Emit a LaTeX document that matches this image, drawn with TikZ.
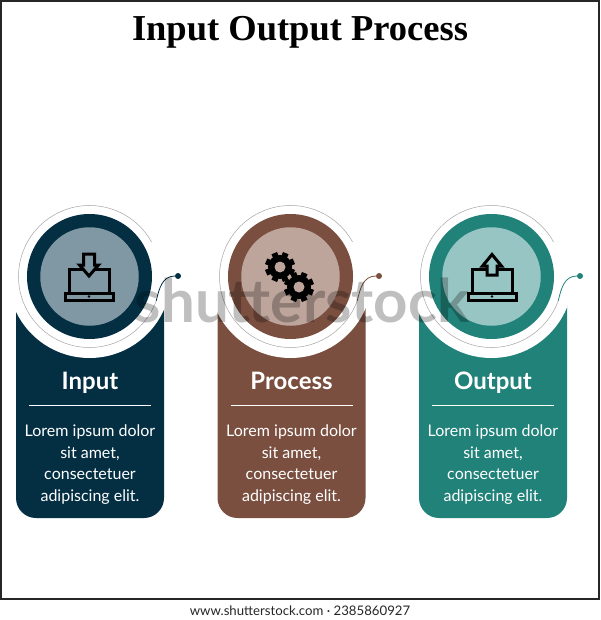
\documentclass[tikz,border=0pt]{standalone}
\usepackage{fontspec}
\setmainfont{Lato}
\newfontfamily\headfont{Liberation Serif}
\usepackage{tikz}
\usetikzlibrary{positioning,calc}
\definecolor{inputdark}{HTML}{042F43}
\definecolor{inputlight}{HTML}{7F98A3}
\definecolor{processdark}{HTML}{7A4F40}
\definecolor{processlight}{HTML}{BDA59C}
\definecolor{outputdark}{HTML}{21827A}
\definecolor{outputlight}{HTML}{97C5C3}
\tikzset{
  disc/.style={circle,inner sep=0pt,outer sep=0pt,draw=none},
  tipdot/.style={disc,minimum size=6pt},
  thinarc/.style={gray!70,line width=0.5pt},
  heading/.style={text=white,font=\fontsize{24}{26}\selectfont\bfseries,inner sep=0pt,anchor=base},
  blurb/.style={text=white,align=center,font=\fontsize{16}{21.7}\selectfont,inner sep=0pt},
  iconline/.style={draw=black,line width=3pt,miter limit=4},
  laptop/.pic={
    \draw[iconline] (-20,292) |- (20,269.5) -- (20,292);
    \draw[iconline] (-24,293) rectangle (24,300);
    \fill (0,296.5) circle (1.3pt);
  },
  gear/.pic={
    \fill (0,0) circle (12pt);
    \foreach \a in {0,45,...,315}
      \fill[rotate=\a+22.5] (-3,-15) rectangle (3,0);
    \fill[processlight] (0,0) circle (5.5pt);
  }
}
\begin{document}
\begin{tikzpicture}[x=1pt,y=-1pt]
  \useasboundingbox (0,0) rectangle (600,620);
  \draw[black!85,line width=1.2pt] (1,1) rectangle (599,599);
  \node[font=\headfont\fontsize{36.5}{38}\selectfont\bfseries,inner sep=0pt,anchor=base] (title) at (300,40.5) {Input Output Process};
  \node[font=\fontsize{13.2}{15}\selectfont,text=black!85,inner sep=0pt] (footer) at (300,611) {www.shutterstock.com · 2385860927};

  \foreach \n/\cx/\px/\dark/\light/\word in {
      in/89.5/90/inputdark/inputlight/Input,
      pr/290.5/291.5/processdark/processlight/Process,
      ou/491.5/493/outputdark/outputlight/Output}{
    \fill[\dark,rounded corners=20pt] (\px-74,300) [sharp corners] -- (\px+74,300) [rounded corners=20pt] -- (\px+74,518) -- (\px-74,518) -- (\px-74,320) [sharp corners] -- cycle;
    \node[disc,fill=white,minimum size=163pt] (cut\n) at (\cx,276.5) {};
    \coordinate (arcstart\n) at ($(\cx,276.5)+(29:71pt)$);
    \coordinate (arcend\n) at ($(\cx,276.5)+(340:71pt)$);
    \draw[thinarc] (arcstart\n) arc[start angle=29,end angle=340,radius=71pt];
    \node[disc,fill=\dark,minimum size=125pt] (ring\n) at (\cx,276.5) {};
    \node[disc,fill=\light,minimum size=98.5pt] (face\n) at (\cx,276.5) {};
    \node[tipdot,fill=\dark] (dot\n) at (\cx+88.5,276) {};
    \draw[\dark,line width=0.8pt] (arcend\n) .. controls +(3,-12) and +(-16,0) .. (dot\n);
    \node[heading] (word\n) at (\px,389) {\word};
    \draw[white,line width=1.6pt] (\px-61,405.5) -- (\px+61,405.5);
    \node[blurb,anchor=north] (text\n) at (\px,424.5) {Lorem ipsum dolor\\sit amet,\\consectetuer\\adipiscing elit.};
  }

  \pic at (89,0) {laptop};
  \draw[iconline,fill=inputlight] (83.5,254) -- (94.5,254) -- (94.5,265) -- (98.5,265) -- (89,276) -- (79.5,265) -- (83.5,265) -- cycle;
  \pic at (492,0) {laptop};
  \draw[iconline,fill=outputlight] (487,275) -- (497,275) -- (497,266) -- (501.5,266) -- (492,254.5) -- (482.5,266) -- (487,266) -- cycle;
  \pic at (280,267) {gear};
  \pic at (299,287) {gear};

  \node[opacity=.25,font=\fontsize{60}{62}\selectfont\bfseries,inner sep=0pt,anchor=base] (mark) at (302,322) {shutterstock};
\end{tikzpicture}
\end{document}
